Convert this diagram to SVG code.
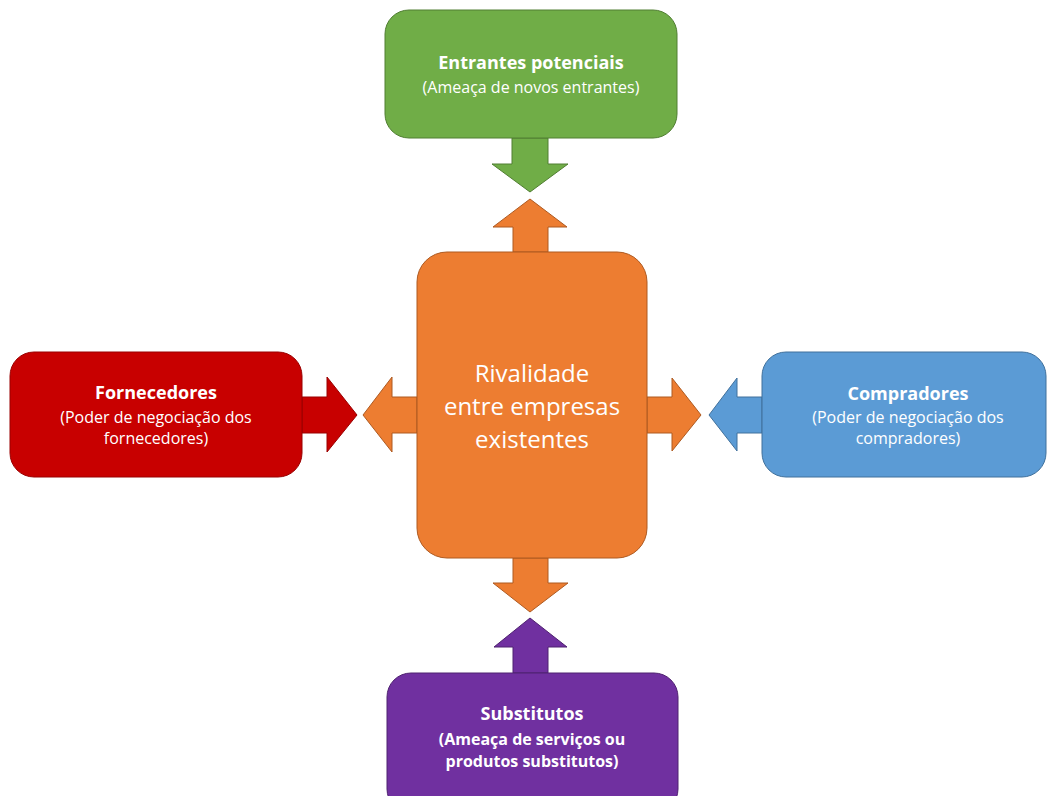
<svg xmlns="http://www.w3.org/2000/svg" width="1047" height="796" viewBox="0 0 1047 796">
<style>
.t{font-family:"Open Sans","Noto Sans",sans-serif;fill:#ffffff;text-anchor:middle}
.h{font-size:18px;font-weight:bold}
.s{font-size:16px}
.b{font-weight:bold}
.c{font-size:24px}
.g{fill:#70ad47;stroke:#507e32;stroke-width:1}
.o{fill:#ed7d31;stroke:#ae5a21;stroke-width:1}
.r{fill:#c80000;stroke:#9a0000;stroke-width:1}
.bl{fill:#5b9bd5;stroke:#41719c;stroke-width:1}
.p{fill:#7030a0;stroke:#4f2270;stroke-width:1}
</style>
<rect width="1047" height="796" fill="#ffffff"/>
<g id="connectors">
<path class="g" d="M512,138 L548,138 L548,164 L568,164 L530,192 L492,164 L512,164 Z"/>
<path class="o" d="M513,252 L513,227 L493,227 L530,199 L567,227 L548,227 L548,252 Z"/>
<path class="o" d="M513,558 L548,558 L548,583 L568,583 L530,612 L493,583 L513,583 Z"/>
<path class="p" d="M513,673 L513,647 L494,647 L530,618 L567,647 L548,647 L548,673 Z"/>
<path class="r" d="M302,397 L327,397 L327,377 L357,415 L327,452 L327,433 L302,433 Z"/>
<path class="o" d="M417,397 L392,397 L392,377 L363,415 L392,452 L392,433 L417,433 Z"/>
<path class="o" d="M647,397 L672,397 L672,378 L701,415 L672,451 L672,433 L647,433 Z"/>
<path class="bl" d="M762,397 L737,397 L737,378 L709,415 L737,451 L737,433 L762,433 Z"/>
</g>
<g id="entrantes">
<rect class="g" x="385" y="10" width="292" height="128" rx="24"/>
<text class="t h" x="531" y="69">Entrantes potenciais</text>
<text class="t s" x="531" y="93">(Ameaça de novos entrantes)</text>
</g>
<g id="rivalidade">
<rect class="o" x="417" y="252" width="230" height="306" rx="30"/>
<text class="t c" x="532" y="382">Rivalidade</text>
<text class="t c" x="532" y="415">entre empresas</text>
<text class="t c" x="532" y="448">existentes</text>
</g>
<g id="fornecedores">
<rect class="r" x="10" y="352" width="292" height="125" rx="24"/>
<text class="t h" x="156" y="399">Fornecedores</text>
<text class="t s" x="156" y="423">(Poder de negociação dos</text>
<text class="t s" x="156" y="444">fornecedores)</text>
</g>
<g id="compradores">
<rect class="bl" x="762" y="352" width="284" height="125" rx="24"/>
<text class="t h" x="908" y="400">Compradores</text>
<text class="t s" x="908" y="423">(Poder de negociação dos</text>
<text class="t s" x="908" y="444">compradores)</text>
</g>
<g id="substitutos">
<rect class="p" x="387" y="673" width="291" height="140" rx="24"/>
<text class="t h" x="532" y="720">Substitutos</text>
<text class="t s b" x="532" y="745">(Ameaça de serviços ou</text>
<text class="t s b" x="532" y="767">produtos substitutos)</text>
</g>
</svg>
